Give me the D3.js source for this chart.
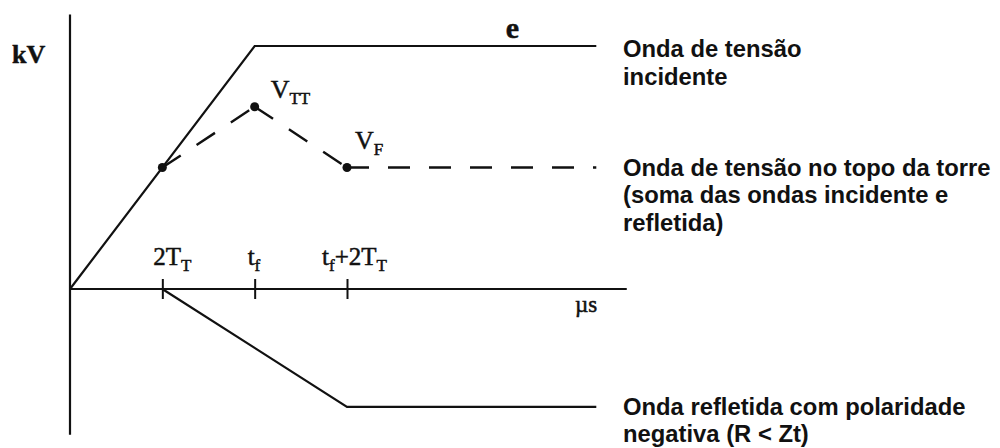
<!DOCTYPE html>
<html>
<head>
<meta charset="utf-8">
<script src="https://cdn.jsdelivr.net/npm/d3@7"></script>
<style>
  html, body { margin: 0; padding: 0; background: #fff; }
  svg { display: block; }
  .serif { font-family: "Liberation Serif", "Times New Roman", serif; fill: #111; stroke: #111; stroke-width: 0.5; }
  .note { font-family: "Liberation Sans", Arial, sans-serif; font-weight: bold; font-size: 23.8px; fill: #111; }
</style>
</head>
<body>
<svg id="chart" width="1000" height="448"></svg>
<script>
// Time in µs (2T_T taken as one unit), voltage in per-unit of the incident crest e.
const tickTimes = [1, 2, 3];
const tickLabels = [
  [["2T", false], ["T", true]],
  [["t", false], ["f", true]],
  [["t", false], ["f", true], ["+2T", false], ["T", true]]
];
const tickLabelShift = [-9, -7, -25];

// Incident wave: linear front up to t_f, then flat crest e
const incidentTime = [0, 2, 5.7];
const incidentVolt = [0, 1, 1];

// Reflected wave from the tower footing, negative polarity (R < Zt)
const reflectedTime = [1, 3, 5.7];
const reflectedVolt = [0, -0.485, -0.485];

// Voltage at the tower top = incident + reflected
const topTime = [1, 2, 3, 5.7];
const topVolt = [0.5, 0.75, 0.5, 0.5];
const topMarked = [true, true, true, false];

const svg = d3.select("#chart");

const x = d3.scaleLinear().domain([0, 6]).range([70, 624]);
const y = d3.scaleLinear().domain([0, 1]).range([289, 46]);

const line = d3.line().x(d => x(d[0])).y(d => y(d[1]));
const pairs = (t, v) => t.map((d, i) => [d, v[i]]);

// Axes
svg.append("line")
  .attr("x1", x(0)).attr("x2", x(0))
  .attr("y1", y(1.13)).attr("y2", y(-0.6))
  .attr("stroke", "#111").attr("stroke-width", 2.2);
svg.append("line")
  .attr("x1", x(0)).attr("x2", x(6.03))
  .attr("y1", y(0)).attr("y2", y(0))
  .attr("stroke", "#111").attr("stroke-width", 2.2);

const tickAxis = svg.append("g")
  .attr("transform", `translate(0,${y(0) - 10})`)
  .call(d3.axisBottom(x).tickValues(tickTimes).tickSize(20).tickFormat(""));
tickAxis.select(".domain").remove();
tickAxis.selectAll(".tick line").attr("stroke", "#111").attr("stroke-width", 2);

// Tick labels with subscripts
tickTimes.forEach((t, i) => {
  const txt = svg.append("text").attr("class", "serif")
    .attr("x", x(t) + tickLabelShift[i]).attr("y", y(0) - 24)
    .attr("font-size", 25);
  tickLabels[i].forEach(([s, sub], j) => {
    const prev = j > 0 ? tickLabels[i][j - 1][1] : false;
    txt.append("tspan")
      .attr("font-size", sub ? 17 : 25)
      .attr("dy", sub && !prev ? 6 : (!sub && prev ? -6 : 0))
      .text(s);
  });
});

// Curves
svg.append("path")
  .attr("d", line(pairs(incidentTime, incidentVolt)))
  .attr("fill", "none").attr("stroke", "#111").attr("stroke-width", 2.2);

svg.append("path")
  .attr("d", line(pairs(reflectedTime, reflectedVolt)))
  .attr("fill", "none").attr("stroke", "#111").attr("stroke-width", 2.2);

// Tower-top wave: each segment dashed from its own starting point
const topPts = pairs(topTime, topVolt);
d3.pairs(topPts).forEach(seg => {
  svg.append("path")
    .attr("d", line(seg))
    .attr("fill", "none").attr("stroke", "#111").attr("stroke-width", 2.4)
    .attr("stroke-dasharray", "22,19");
});
svg.selectAll("circle.pt")
  .data(topPts.filter((d, i) => topMarked[i]))
  .join("circle").attr("class", "pt")
  .attr("cx", d => x(d[0])).attr("cy", d => y(d[1]))
  .attr("r", 4.5).attr("fill", "#111");

// Serif annotations
svg.append("text").attr("class", "serif")
  .attr("x", 12).attr("y", 63)
  .attr("font-size", 26).attr("font-weight", "bold").text("kV");

svg.append("text").attr("class", "serif")
  .attr("x", x(4.72)).attr("y", y(1) - 8)
  .attr("font-size", 30).attr("font-weight", "bold").text("e");

function vLabel(px, py, sub) {
  const t = svg.append("text").attr("class", "serif")
    .attr("x", px).attr("y", py).attr("font-size", 26);
  t.append("tspan").text("V");
  t.append("tspan").attr("font-size", 17).attr("dy", 6).text(sub);
}
vLabel(x(2) + 16, y(0.75) - 9, "TT");
vLabel(x(3) + 8, y(0.5) - 19, "F");

svg.append("text").attr("class", "serif")
  .attr("x", x(5.47)).attr("y", y(0) + 23)
  .attr("font-size", 23).text("µs");

// Curve descriptions at the right
const notes = [
  { v: 1, lines: ["Onda de tensão", "incidente"], dy: 11 },
  { v: 0.5, lines: ["Onda de tensão no topo da torre", "(soma das ondas incidente e", "refletida)"], dy: 8 },
  { v: -0.485, lines: ["Onda refletida com polaridade", "negativa (R < Zt)"], dy: 8 }
];
notes.forEach(n => {
  const t = svg.append("text").attr("class", "note")
    .attr("x", 623).attr("y", y(n.v) + n.dy);
  n.lines.forEach((s, i) => {
    t.append("tspan").attr("x", 623).attr("dy", i === 0 ? 0 : 27.5).text(s);
  });
});
</script>
</body>
</html>
